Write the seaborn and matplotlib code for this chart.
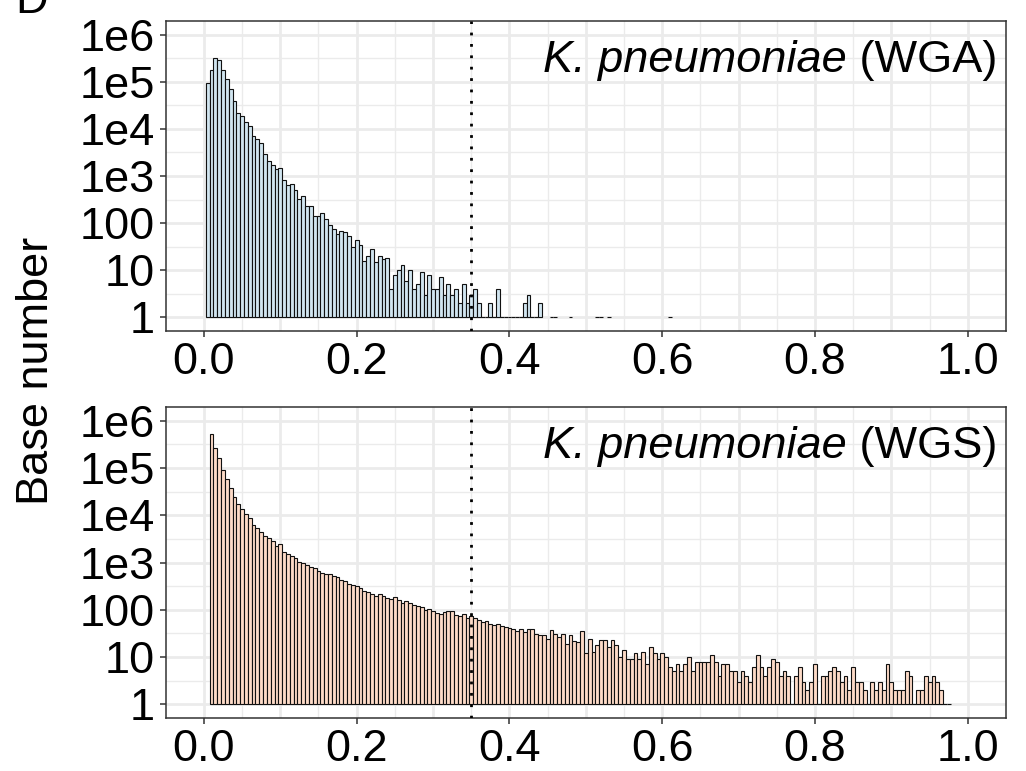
import numpy as np
import pandas as pd
import matplotlib
matplotlib.use("Agg")
import matplotlib.pyplot as plt
import seaborn as sns

# binned counts, bin width 0.005 (bin k is centred at 0.005 * k)
# 0 = empty bin (nothing drawn), 1 = flat bar on the baseline
wga_first_bin = 1
wga_counts = [95000, 180000, 320000, 296000, 180000, 116000, 69000, 40000, 22000, 19000,
              14000, 11700, 6900, 6000, 4900, 2900, 2100, 1670, 1440, 1480,
              825, 635, 680, 515, 320, 372, 228, 233, 142, 142,
              160, 121, 90, 76, 58, 69, 66, 54, 31, 44,
              34, 16, 20, 28, 15, 20, 17, 18, 4, 8,
              10, 13, 6, 10, 4, 5, 9, 3, 8, 4,
              4, 7, 3, 5, 3, 4, 2, 5, 2, 3,
              4, 2, 1, 1, 2, 1, 4, 1, 1, 1,
              1, 1, 1, 2, 3, 1, 1, 2, 0, 0,
              1, 1, 0, 0, 0, 1, 0, 0, 0, 0,
              0, 0, 1, 1, 0, 1, 0, 0, 0, 0,
              0, 0, 0, 0, 0, 0, 0, 0, 0, 0,
              0, 1]

wgs_first_bin = 2
wgs_counts = [520000, 270000, 165000, 91000, 58000, 38000, 25000, 17400, 13700, 10700,
              8900, 6300, 5400, 4400, 3700, 3300, 2800, 2200, 2500, 1700,
              1500, 1400, 1240, 1020, 980, 870, 790, 750, 660, 600,
              580, 560, 525, 485, 435, 400, 350, 340, 325, 290,
              255, 235, 215, 195, 213, 195, 179, 171, 182, 157,
              141, 155, 138, 128, 120, 112, 100, 105, 94, 86,
              81, 91, 95, 94, 78, 73, 80, 67, 73, 68,
              60, 55, 59, 51, 47, 51, 45, 43, 41, 40,
              35, 40, 33, 39, 39, 30, 29, 29, 24, 38,
              30, 26, 31, 19, 29, 22, 21, 35, 12, 24,
              13, 18, 23, 23, 16, 23, 18, 10, 14, 9,
              9, 12, 9, 13, 7, 16, 12, 9, 12, 10,
              6, 5, 7, 5, 7, 10, 5, 8, 8, 8,
              8, 11, 8, 4, 7, 7, 5, 5, 3, 5,
              4, 3, 6, 11, 6, 4, 6, 9, 8, 4,
              5, 4, 1, 4, 6, 3, 2, 3, 7, 1,
              4, 4, 5, 6, 5, 3, 4, 2, 6, 3,
              3, 2, 1, 3, 2, 3, 2, 7, 3, 2,
              2, 2, 5, 4, 1, 2, 2, 4, 3, 4,
              3, 2, 1, 1]

bin_width = 0.005
cutoff = 0.35
y_ticks = [0, 1, 2, 3, 4, 5, 6]
y_labels = ["1", "10", "100", "1e3", "1e4", "1e5", "1e6"]
x_ticks = [0.0, 0.2, 0.4, 0.6, 0.8, 1.0]
x_labels = ["0.0", "0.2", "0.4", "0.6", "0.8", "1.0"]

panels = [
    ("WGA", wga_first_bin, wga_counts, "#D1E5F0"),
    ("WGS", wgs_first_bin, wgs_counts, "#FDDBC7"),
]

sns.set_theme(style="white")
plt.rcParams["font.family"] = ["Liberation Sans", "DejaVu Sans"]
plt.rcParams["text.color"] = "black"

fs = 32.5
fig = plt.figure(figsize=(10.26, 7.71), dpi=100)
axes = [fig.add_axes([0.1615, 0.5703, 0.8190, 0.4029]),
        fig.add_axes([0.1615, 0.0683, 0.8190, 0.4042])]

labels = []
for ax, (name, first, counts, color) in zip(axes, panels):
    counts = np.array(counts)
    k = np.arange(first, first + len(counts))
    df = pd.DataFrame({"x": np.round(k * bin_width, 4), "count": counts})
    df = df[df["count"] > 0]
    df["logc"] = np.log10(df["count"])

    ax.set_axisbelow(True)
    for v in np.arange(0.05, 1.0, 0.1):
        ax.axvline(v, color="#EBEBEB", lw=1.0, zorder=0)
    for v in np.arange(0.0, 1.01, 0.1):
        ax.axvline(v, color="#EBEBEB", lw=2.0, zorder=0)
    for v in np.arange(0.5, 6, 1.0):
        ax.axhline(v, color="#EBEBEB", lw=1.0, zorder=0)
    for v in y_ticks:
        ax.axhline(v, color="#EBEBEB", lw=2.0, zorder=0)

    sns.barplot(data=df, x="x", y="logc", native_scale=True, width=1,
                color=color, saturation=1, edgecolor="#111111", linewidth=0.8,
                errorbar=None, ax=ax, zorder=2)

    ax.axvline(cutoff, color="black", lw=2.0, linestyle=(0, (1, 3.1)), zorder=3)

    ax.set_xlim(-0.05, 1.05)
    ax.set_ylim(-0.3, 6.3)
    ax.set_xticks(x_ticks)
    ax.set_xticklabels(x_labels)
    ax.set_yticks(y_ticks)
    ax.set_yticklabels(y_labels)
    ax.set_xlabel("")
    ax.set_ylabel("")
    ax.tick_params(axis="both", labelsize=fs, length=4, width=1.1, color="#333333",
                   pad=4, direction="out", bottom=True, left=True, labelcolor="black")
    for s in ax.spines.values():
        s.set_visible(True)
        s.set_color("#333333")
        s.set_linewidth(1.1)

    t = ax.text(0.9893, 0.835, " (" + name + ")", transform=ax.transAxes,
                ha="right", va="baseline", fontsize=fs)
    labels.append((ax, t))

# italic species name placed just left of the "(WGA)" / "(WGS)" part
fig.canvas.draw()
renderer = fig.canvas.get_renderer()
for ax, t in labels:
    bb = t.get_window_extent(renderer).transformed(ax.transAxes.inverted())
    ax.text(bb.x0, 0.835, "K. pneumoniae", transform=ax.transAxes, ha="right",
            va="baseline", fontsize=fs, fontstyle="italic")

fig.text(0.036, 1 - 371 / 771, "Base number", rotation=90, ha="center", va="center",
         fontsize=fs)
fig.text(15 / 1026, 1 - 13 / 771, "D", ha="left", va="baseline", fontsize=fs)

fig.savefig("out.png", dpi=100)
